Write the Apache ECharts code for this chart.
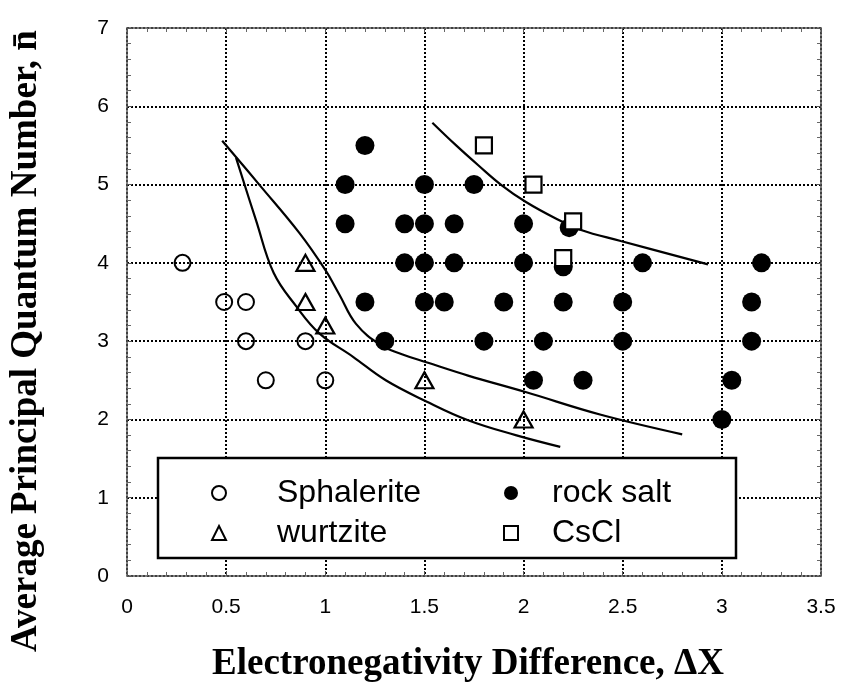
<!DOCTYPE html>
<html>
<head>
<meta charset="utf-8">
<script src="https://cdn.jsdelivr.net/npm/echarts@6/dist/echarts.min.js"></script>
<style>html,body{margin:0;padding:0;background:#fff;}#c{width:851px;height:698px;}</style>
</head>
<body>
<div id="c"></div>
<script>
// ---- data ----
const xTicks = [0, 0.5, 1, 1.5, 2, 2.5, 3, 3.5];
const yTicks = [0, 1, 2, 3, 4, 5, 6, 7];
const sphalerite = [[0.28,4],[0.49,3.5],[0.6,3.5],[0.6,3],[0.9,3],[0.7,2.5],[1.0,2.5]];
const wurtzite = [[0.9,4],[0.9,3.5],[1.0,3.2],[1.5,2.5],[2.0,2.0]];
const rockSalt = [
  [1.2,5.5],
  [1.1,5],[1.5,5],[1.75,5],
  [1.1,4.5],[1.4,4.5],[1.5,4.5],[1.65,4.5],[2.0,4.5],[2.23,4.45],
  [1.4,4],[1.5,4],[1.65,4],[2.0,4],[2.2,3.95],[2.6,4],[3.2,4],
  [1.2,3.5],[1.5,3.5],[1.6,3.5],[1.9,3.5],[2.2,3.5],[2.5,3.5],[3.15,3.5],
  [1.3,3],[1.8,3],[2.1,3],[2.5,3],[3.15,3],
  [2.05,2.5],[2.3,2.5],[3.05,2.5],
  [3.0,2.0]
];
const cscl = [[1.8,5.5],[2.05,5.0],[2.25,4.53],[2.2,4.06]];
const curveA = [[0.48,5.56],[0.67,4.99],[0.87,4.38],[1.0,3.91],[1.07,3.6],[1.155,3.22],[1.28,2.95],[1.39,2.83],[1.51,2.73],[1.72,2.56],[2.01,2.35],[2.39,2.06],[2.8,1.81]];
const curveB = [[0.55,5.34],[0.65,4.55],[0.74,3.87],[0.855,3.44],[0.97,3.1],[1.14,2.8],[1.305,2.5],[1.51,2.23],[1.72,1.99],[1.96,1.8],[2.185,1.65]];
const curveC = [[1.54,5.79],[1.66,5.5],[1.77,5.25],[1.89,4.99],[2.01,4.78],[2.16,4.57],[2.29,4.42],[2.49,4.28],[2.93,3.98]];
const seriesNames = ['Sphalerite', 'wurtzite', 'rock salt', 'CsCl'];
const xTitle = 'Electronegativity Difference, \u0394X';
const yTitle = 'Average Principal Quantum Number, n\u0304';

const chart = echarts.init(document.getElementById('c'), null, {renderer: 'canvas'});
const sans = '"Liberation Sans", Arial, sans-serif';
const serif = '"Liberation Serif", "Times New Roman", serif';
const grid = {left: 123, right: 30, top: 28, bottom: 122};
const frameLine = {show: true, onZero: false, lineStyle: {color: '#555', width: 1.5}};
const majorTick = {show: true, inside: true, length: 5, lineStyle: {color: '#555'}};
const minorTick = {show: true, splitNumber: 5, length: 4, lineStyle: {color: '#666', width: 1}};
const gridLine = {show: true, lineStyle: {color: '#000', width: 2, type: 'dotted'}};

function lineSeries(data) {
  return {type: 'line', data: data, smooth: 0.4, symbol: 'none', silent: true,
    lineStyle: {color: '#000', width: 2.2}, z: 3};
}

chart.setOption({
  animation: false,
  backgroundColor: '#fff',
  grid: grid,
  xAxis: [{
    type: 'value', min: xTicks[0], max: xTicks[xTicks.length-1], interval: 0.5, position: 'bottom',
    axisLine: frameLine, axisTick: majorTick, minorTick: minorTick, splitLine: gridLine,
    axisLabel: {color: '#000', fontFamily: sans, fontSize: 21, margin: 21},
    name: xTitle, nameLocation: 'middle', nameGap: 70,
    nameTextStyle: {fontFamily: serif, fontWeight: 'bold', fontSize: 37, color: '#000', padding: [0, 12, 0, 0]}
  }, {
    type: 'value', min: xTicks[0], max: xTicks[xTicks.length-1], interval: 0.5, position: 'top',
    axisLine: frameLine, axisTick: majorTick, minorTick: minorTick,
    splitLine: {show: false}, axisLabel: {show: false}
  }],
  yAxis: [{
    type: 'value', min: yTicks[0], max: yTicks[yTicks.length-1], interval: 1, position: 'left',
    axisLine: frameLine, axisTick: majorTick, minorTick: minorTick, splitLine: gridLine,
    axisLabel: {color: '#000', fontFamily: sans, fontSize: 21, margin: 18},
    name: yTitle, nameLocation: 'middle', nameGap: 82,
    nameTextStyle: {fontFamily: serif, fontWeight: 'bold', fontSize: 37, color: '#000', padding: [0, 78, 0, 0]}
  }, {
    type: 'value', min: yTicks[0], max: yTicks[yTicks.length-1], interval: 1, position: 'right',
    axisLine: frameLine, axisTick: majorTick, minorTick: minorTick,
    splitLine: {show: false}, axisLabel: {show: false}
  }],
  graphic: [{
    type: 'rect', z: 3, silent: true,
    shape: {x: 158, y: 458, width: 578, height: 100},
    style: {fill: '#fff', stroke: '#000', lineWidth: 2.5}
  }],
  legend: [{
    data: [seriesNames[0], seriesNames[1]], orient: 'vertical', left: 211, top: 477,
    itemWidth: 14, itemHeight: 14, itemGap: 8, padding: 0, z: 5,
    textStyle: {fontFamily: sans, fontSize: 32, color: '#000', lineHeight: 30, padding: [0, 0, 0, 46]}
  }, {
    data: [seriesNames[2], seriesNames[3]], orient: 'vertical', left: 503, top: 477,
    itemWidth: 14, itemHeight: 14, itemGap: 8, padding: 0, z: 5,
    textStyle: {fontFamily: sans, fontSize: 32, color: '#000', lineHeight: 30, padding: [0, 0, 0, 29]}
  }],
  series: [
    lineSeries(curveA), lineSeries(curveB), lineSeries(curveC),
    {name: seriesNames[0], type: 'scatter', data: sphalerite, symbol: 'circle', symbolSize: 16, z: 4,
      itemStyle: {color: 'rgba(0,0,0,0)', borderColor: '#000', borderWidth: 2, opacity: 1}},
    {name: seriesNames[1], type: 'scatter', data: wurtzite, symbol: 'triangle', symbolSize: [18, 16], z: 4,
      itemStyle: {color: 'rgba(0,0,0,0)', borderColor: '#000', borderWidth: 2.2, opacity: 1}},
    {name: seriesNames[2], type: 'scatter', data: rockSalt, symbol: 'circle', symbolSize: 19, z: 4,
      itemStyle: {color: '#000', borderColor: '#000', borderWidth: 0, opacity: 1}},
    {name: seriesNames[3], type: 'scatter', data: cscl, symbol: 'rect', symbolSize: 16, z: 5,
      itemStyle: {color: '#fff', borderColor: '#000', borderWidth: 2.2, opacity: 1}}
  ]
});
</script>
</body>
</html>
